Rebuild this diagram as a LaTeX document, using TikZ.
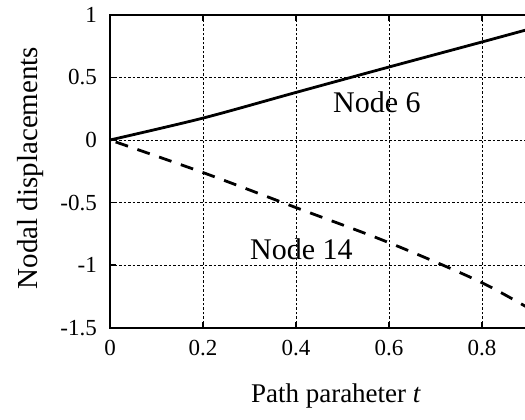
\documentclass[tikz,border=0pt]{standalone}
\usepackage{fontspec}
\setmainfont{Liberation Serif}
\begin{document}
\begin{tikzpicture}[x=1pt,y=-1pt,
  gridline/.style={line width=1pt, dash pattern=on 2.5pt off 2pt},
  axisline/.style={line width=2.2pt},
  tickmark/.style={line width=1.5pt},
  curvesolid/.style={line width=2.8pt},
  curvedash/.style={line width=2.8pt, dash pattern=on 13pt off 10pt, dash phase=-6pt},
  ticklab/.style={font=\fontsize{23}{25}\selectfont, inner sep=0pt},
  biglab/.style={font=\fontsize{30}{33}\selectfont, inner sep=0pt},
  titlelab/.style={font=\fontsize{29}{32}\selectfont, inner sep=0pt},
  xtitlelab/.style={font=\fontsize{27}{30}\selectfont, inner sep=0pt}]
\useasboundingbox (0,0) rectangle (525,420);
\clip (0,0) rectangle (525,420);
\begin{scope}[shift={(110,140)}, x=465pt, y=125.2pt]
  % grid
  \foreach \t in {0.2,0.4,0.6,0.8} \draw[gridline] (\t,-1.5) -- (\t,1);
  \foreach \v in {0.5,0,-0.5,-1} \draw[gridline] (0,\v) -- (0.95,\v);
  % ticks
  \foreach \t in {0.2,0.4,0.6,0.8} {
    \draw[tickmark] (\t,-1.5) -- ++(0,6pt);
    \draw[tickmark] (\t,1) -- ++(0,-6pt);
  }
  \foreach \v in {0.5,0,-0.5,-1} \draw[tickmark] (0,\v) -- ++(6pt,0);
  % axes
  \coordinate (o) at (0,0);
  \coordinate (tl) at (0,1);
  \coordinate (bl) at (0,-1.5);
  \coordinate (tr) at (0.95,1);
  \coordinate (br) at (0.95,-1.5);
  \draw[axisline] (tr) -- (tl) -- (bl) -- (br);
  % tick labels
  \foreach \v/\l in {1/1,0.5/0.5,0/0,-0.5/-0.5,-1/-1,-1.5/-1.5}
    \node[ticklab, anchor=east] (yl\l) at ([xshift=-13pt]0,\v) {\l};
  \foreach \t/\l in {0/0,0.2/0.2,0.4/0.4,0.6/0.6,0.8/0.8}
    \node[ticklab, anchor=north] (xl\l) at ([yshift=-12pt]\t,-1.5) {\l};
  % curves
  \draw[curvesolid] plot[smooth] coordinates {(0,0) (0.2,0.175) (0.4,0.38) (0.6,0.583) (0.8,0.783) (0.95,0.935)};
  \draw[curvedash] plot[smooth] coordinates {(0,0) (0.2,-0.26) (0.4,-0.54) (0.6,-0.82) (0.8,-1.14) (0.95,-1.45)};
\end{scope}
\node[biglab, anchor=base west] (n6) at (333,112) {Node 6};
\node[biglab, anchor=base west] (n14) at (250,259) {Node 14};
\node[titlelab, rotate=90, anchor=base] (ytitle) at (37,168) {Nodal displacements};
\node[xtitlelab, anchor=base] (xtitle) at (336,402) {Path paraheter \textit{t}};
\end{tikzpicture}
\end{document}
